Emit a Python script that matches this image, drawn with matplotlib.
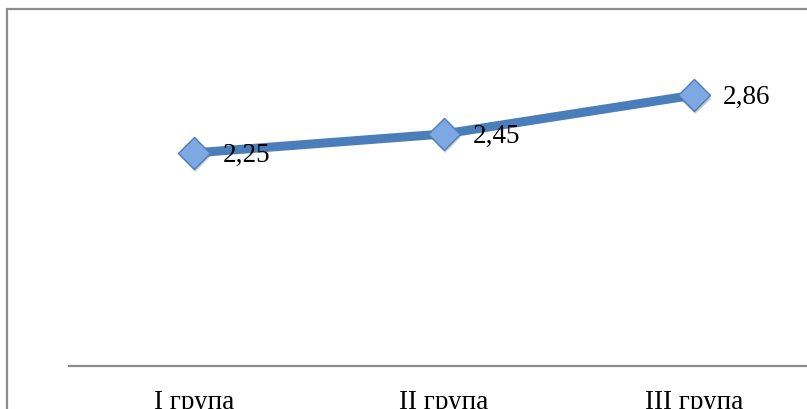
import matplotlib.pyplot as plt
from matplotlib.patches import Rectangle
import matplotlib.patheffects as pe

categories = ["I група", "II група", "III група"]
values = [2.25, 2.45, 2.86]
value_labels = ["2,25", "2,45", "2,86"]

W, H = 807, 409
fig = plt.figure(figsize=(W / 100, H / 100), dpi=100)
fig.patch.set_facecolor("white")

# chart frame (runs off the right and bottom edges)
fig.patches.append(Rectangle((7 / W, -0.2), 1.2, (H - 9) / H + 0.2,
                             transform=fig.transFigure, fill=False,
                             edgecolor="#8c8c8c", linewidth=1.6, zorder=0))

left, right = 69 / W, 819 / W
bottom = (H - 366) / H
top = (H - 34.5) / H
ax = fig.add_axes([left, bottom, right - left, top - bottom])
ax.set_facecolor("none")

x = list(range(len(categories)))
ax.plot(x, values, color="#4a7ebb", linewidth=6.5, solid_capstyle="round", zorder=2)
ax.plot(x, values, linestyle="none", marker="D", markersize=16,
        markerfacecolor="#7ea8e2", markeredgecolor="#4a7ebb", markeredgewidth=1.0,
        zorder=3,
        path_effects=[pe.SimplePatchShadow(offset=(1.0, -2.5), alpha=0.25), pe.Normal()])

for xi, v, lab in zip(x, values, value_labels):
    ax.annotate(lab, (xi, v), xytext=(21, -1.5), textcoords="offset points",
                ha="left", va="center", fontsize=19.5, family="Liberation Serif",
                color="black", zorder=4)

ax.set_xlim(-0.5, 2.5)
ax.set_ylim(0, 3.5)
ax.set_xticks(x)
ax.set_xticklabels(categories, fontsize=19.5, family="Liberation Serif")
ax.tick_params(axis="x", length=0, pad=17)
ax.set_yticks([])
for s in ("left", "right", "top"):
    ax.spines[s].set_visible(False)
ax.spines["bottom"].set_color("#8c8c8c")
ax.spines["bottom"].set_linewidth(1.6)

fig.savefig("out.png", dpi=100)
